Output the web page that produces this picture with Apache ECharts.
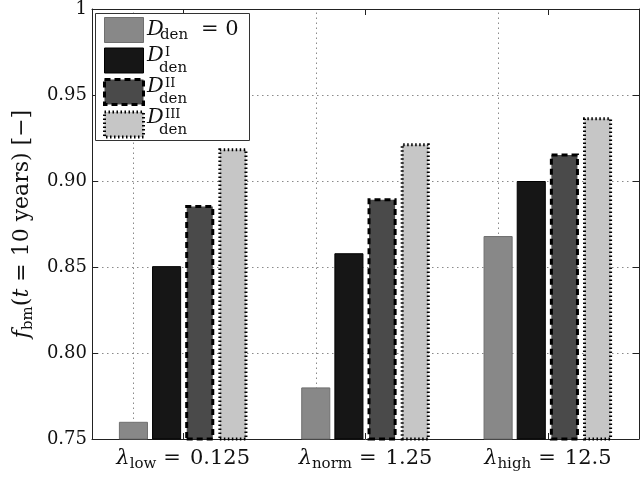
<!DOCTYPE html>
<html><head><meta charset="utf-8">
<script src="https://cdn.jsdelivr.net/npm/echarts@6/dist/echarts.min.js"></script>
<style>html,body{margin:0;padding:0;background:#fff}#c{width:641px;height:477px}</style>
</head><body><div id="c"></div>
<script>
// ---- data ----
const categories = ['low', 'norm', 'high'];
const lambdaValues = ['0.125', '1.25', '12.5'];
const seriesNames = ['D0', 'DI', 'DII', 'DIII'];
const seriesSup = ['', 'I', 'II', 'III'];
const valuesD0 = [0.760, 0.780, 0.868];
const valuesDI = [0.8505, 0.858, 0.900];
const valuesDII = [0.886, 0.890, 0.916];
const valuesDIII = [0.919, 0.922, 0.937];
const yMin = 0.75, yMax = 1.0, yStep = 0.05;

const SERIF = '"DejaVu Serif", "Liberation Serif", serif';
const INK = '#111';
const styles = [
  {color: '#888888', borderColor: '#6f6f6f', borderWidth: 1, borderType: 'solid'},
  {color: '#161616', borderColor: '#000', borderWidth: 1, borderType: 'solid'},
  {color: '#4a4a4a', borderColor: '#000', borderWidth: 3, borderType: [6, 4]},
  {color: '#c6c6c6', borderColor: '#000', borderWidth: 3, borderType: [1.5, 2.5]}
];
const dataSets = [valuesD0, valuesDI, valuesDII, valuesDIII];

const chart = echarts.init(document.getElementById('c'), null, {renderer: 'canvas'});

const gridDotted = {type: [1.5, 3.5], color: '#8a8a8a', width: 1};

const series = seriesNames.map((n, i) => {
  const s = {
    name: n, type: 'bar', data: dataSets[i],
    barGap: '14%', barCategoryGap: '29.5%',
    itemStyle: Object.assign({}, styles[i]),
    emphasis: {disabled: true}
  };
  if (i === 0) {
    s.markLine = {
      z: 1, silent: true, symbol: 'none', label: {show: false},
      lineStyle: gridDotted, emphasis: {disabled: true},
      data: categories.map(c => ({xAxis: c}))
    };
  }
  return s;
});

// legend frame + math labels
const legBox = {x: 95.5, y: 13.5, w: 154, h: 127};
const iw = 39, ih = 25;
const tx = 147;
const rowCenters = [30, 60.5, 91.5, 122.5];
const graphics = [{
  type: 'rect', z: 3, silent: true,
  shape: {x: legBox.x, y: legBox.y, width: legBox.w, height: legBox.h},
  style: {fill: '#fff', stroke: '#333', lineWidth: 1}
}];
seriesNames.forEach((n, i) => {
  const cy = rowCenters[i];
  if (i === 0) {
    graphics.push({type: 'text', x: tx, y: cy, z: 100,
      style: {text: 'D', font: 'italic 21px ' + SERIF, fill: INK, verticalAlign: 'middle'}});
    graphics.push({type: 'text', x: tx + 13, y: cy + 5, z: 100,
      style: {text: 'den', font: '15px ' + SERIF, fill: INK, verticalAlign: 'middle'}});
    graphics.push({type: 'text', x: tx + 54, y: cy, z: 100,
      style: {text: '= 0', font: '21px ' + SERIF, fill: INK, verticalAlign: 'middle'}});
  } else {
    graphics.push({type: 'text', x: tx, y: cy - 5, z: 100,
      style: {text: 'D', font: 'italic 21px ' + SERIF, fill: INK, verticalAlign: 'middle'}});
    graphics.push({type: 'text', x: tx + 18, y: cy - 8, z: 100,
      style: {text: seriesSup[i], font: '13px ' + SERIF, fill: INK, verticalAlign: 'middle'}});
    graphics.push({type: 'text', x: tx + 12, y: cy + 8, z: 100,
      style: {text: 'den', font: '15px ' + SERIF, fill: INK, verticalAlign: 'middle'}});
  }
});

const axisLineStyle = {color: '#222', width: 1};
const tickStyle = {color: '#222', width: 1};

chart.setOption({
  animation: false,
  backgroundColor: '#fff',
  grid: {left: 92, right: 2, top: 8, bottom: 38},
  legend: {
    left: 96, top: 14, orient: 'vertical', selectedMode: false, z: 10,
    itemWidth: iw, itemHeight: ih, itemGap: 4.5, padding: [3, 0, 2, 7],
    formatter: () => '',
    textStyle: {fontSize: 10},
    data: seriesNames.map((n, i) => ({name: n, icon: 'rect', itemStyle: Object.assign({}, styles[i])}))
  },
  graphic: graphics,
  xAxis: [{
    type: 'category', data: categories, position: 'bottom',
    axisLine: {show: true, lineStyle: axisLineStyle},
    axisTick: {show: true, inside: true, alignWithLabel: true, length: 6, lineStyle: tickStyle},
    splitLine: {show: false},
    axisLabel: {
      margin: 7,
      formatter: (v, i) => '{l|λ}{s|' + v + '}{e|=}{n|' + lambdaValues[i] + '}',
      rich: {
        l: {fontFamily: SERIF, fontStyle: 'italic', fontSize: 21, color: INK, lineHeight: 26},
        s: {fontFamily: SERIF, fontSize: 15, color: INK, lineHeight: 12, verticalAlign: 'bottom'},
        e: {fontFamily: SERIF, fontSize: 21, color: INK, lineHeight: 26, padding: [0, 9, 0, 7]},
        n: {fontFamily: SERIF, fontSize: 21, color: INK, lineHeight: 26}
      }
    }
  }, {
    type: 'category', data: categories, position: 'top',
    axisLine: {show: true, lineStyle: axisLineStyle},
    axisTick: {show: true, inside: true, alignWithLabel: true, length: 6, lineStyle: tickStyle},
    axisLabel: {show: false}, splitLine: {show: false}
  }],
  yAxis: [{
    type: 'value', min: yMin, max: yMax, interval: yStep, position: 'left',
    axisLine: {show: true, lineStyle: axisLineStyle},
    axisTick: {show: true, inside: true, length: 6, lineStyle: tickStyle},
    splitLine: {show: true, lineStyle: gridDotted},
    axisLabel: {
      margin: 5, color: INK, fontFamily: SERIF, fontSize: 18,
      formatter: v => (Math.abs(v - 1) < 1e-9 ? '1' : v.toFixed(2))
    },
    name: '{f|f}{s|bm}{n|(}{t|t}{n| = 10 years) [−]}',
    nameLocation: 'middle', nameRotate: 90, nameGap: 42,
    nameTextStyle: {
      rich: {
        f: {fontFamily: SERIF, fontStyle: 'italic', fontSize: 22, color: INK, lineHeight: 28},
        s: {fontFamily: SERIF, fontSize: 15, color: INK, lineHeight: 12, verticalAlign: 'bottom'},
        t: {fontFamily: SERIF, fontStyle: 'italic', fontSize: 22, color: INK, lineHeight: 28},
        n: {fontFamily: SERIF, fontSize: 22, color: INK, lineHeight: 28}
      }
    }
  }, {
    type: 'value', min: yMin, max: yMax, interval: yStep, position: 'right',
    axisLine: {show: true, lineStyle: axisLineStyle},
    axisTick: {show: true, inside: true, length: 6, lineStyle: tickStyle},
    axisLabel: {show: false}, splitLine: {show: false}
  }],
  series: series
});
</script></body></html>
